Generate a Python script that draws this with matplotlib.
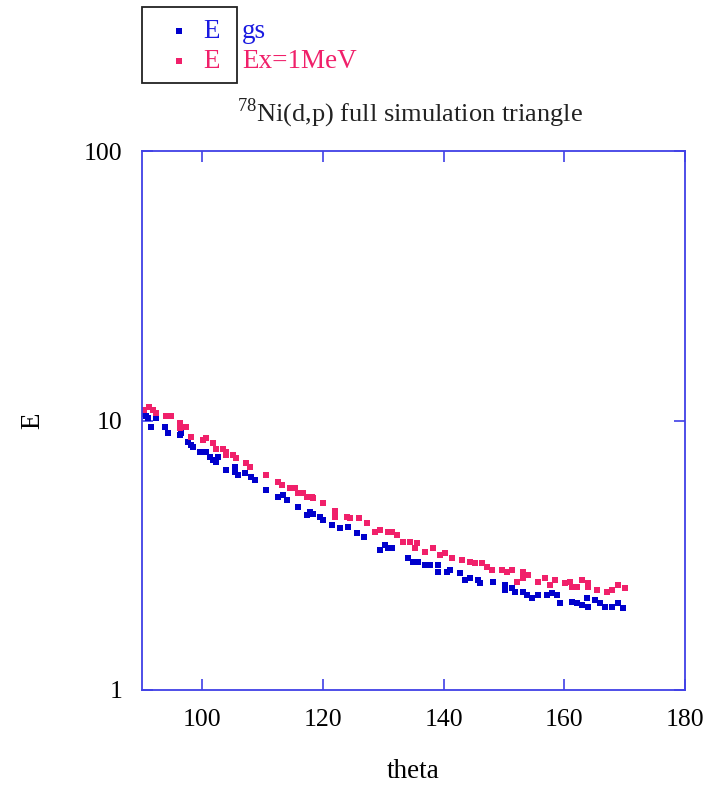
import matplotlib
matplotlib.use("Agg")
import matplotlib.pyplot as plt
from matplotlib.patches import Rectangle
from matplotlib.ticker import FixedLocator, NullLocator

plt.rcParams['font.family'] = ['Liberation Serif', 'DejaVu Serif']
plt.rcParams['mathtext.fontset'] = 'custom'
plt.rcParams['mathtext.rm'] = 'Liberation Serif'

# ground state series
theta_gs = [90.2, 90.7, 91.0, 92.3, 91.5, 93.8, 94.3, 96.3, 96.5, 97.6, 98.1, 98.5, 99.6, 100.6,
            101.3, 101.8, 102.3, 102.6, 103.9, 105.4, 105.4, 105.9, 107.1, 108.1, 108.7, 110.6,
            112.5, 113.4, 114.0, 115.9, 117.3, 117.8, 118.3, 119.5, 120.0, 121.5, 122.8, 124.1,
            125.6, 126.8, 129.4, 130.3, 130.8, 131.4, 134.1, 134.9, 135.7, 136.9, 137.7, 139.1,
            139.1, 140.6, 141.1, 142.7, 143.5, 144.4, 145.7, 146.0, 148.2, 150.2, 150.2, 151.3,
            151.8, 153.2, 153.8, 154.6, 155.6, 157.1, 158.0, 158.8, 159.3, 161.3, 162.1, 162.9,
            163.8, 163.9, 165.1, 165.9, 166.7, 167.9, 168.9, 169.7]
E_gs = [10.6, 10.4, 10.2, 10.2, 9.42, 9.42, 8.95, 8.80, 8.95, 8.29, 8.08, 7.94, 7.61, 7.61,
        7.29, 7.11, 6.99, 7.29, 6.53, 6.70, 6.42, 6.26, 6.36, 6.15, 5.99, 5.51,
        5.19, 5.28, 5.05, 4.76, 4.45, 4.56, 4.49, 4.37, 4.26, 4.08, 3.98, 4.01,
        3.81, 3.69, 3.30, 3.44, 3.36, 3.36, 3.08, 2.98, 2.98, 2.90, 2.90, 2.90,
        2.73, 2.73, 2.78, 2.71, 2.56, 2.60, 2.56, 2.49, 2.51, 2.45, 2.35, 2.39,
        2.31, 2.31, 2.25, 2.19, 2.25, 2.25, 2.29, 2.25, 2.10, 2.12, 2.10, 2.06,
        2.19, 2.03, 2.15, 2.10, 2.03, 2.03, 2.10, 2.01]

# Ex = 1 MeV series
theta_ex = [90.3, 91.2, 91.8, 92.3, 94.0, 94.8, 96.3, 96.3, 97.3, 98.1, 100.1, 100.6, 101.8, 102.3,
            103.4, 103.9, 103.9, 105.1, 105.6, 107.2, 107.9, 110.6, 112.5, 113.2, 114.5, 115.4,
            115.9, 116.7, 117.3, 118.2, 118.3, 120.0, 122.0, 122.0, 124.0, 124.5, 126.0, 127.3,
            128.6, 129.4, 130.8, 131.4, 132.3, 133.3, 134.4, 135.3, 135.6, 136.9, 138.2, 139.4,
            140.2, 141.4, 143.0, 144.4, 145.2, 146.4, 147.2, 148.0, 149.7, 150.5, 151.3, 152.2,
            153.2, 153.2, 154.0, 155.6, 156.8, 157.6, 158.5, 160.1, 160.9, 161.3, 162.1, 162.9,
            163.9, 163.9, 165.4, 167.1, 167.9, 168.9, 170.1]
E_ex = [10.9, 11.2, 10.9, 10.7, 10.35, 10.35, 9.75, 9.34, 9.42, 8.65, 8.43, 8.58, 8.22, 7.87,
        7.87, 7.61, 7.42, 7.42, 7.23, 6.93, 6.70, 6.26, 5.89, 5.74, 5.60, 5.60,
        5.37, 5.37, 5.19, 5.19, 5.14, 4.93, 4.60, 4.37, 4.37, 4.34, 4.34, 4.15,
        3.85, 3.91, 3.85, 3.85, 3.75, 3.53, 3.53, 3.36, 3.50, 3.24, 3.36, 3.16,
        3.22, 3.08, 3.03, 2.98, 2.95, 2.95, 2.85, 2.78, 2.78, 2.73, 2.78, 2.51,
        2.73, 2.60, 2.67, 2.51, 2.60, 2.45, 2.56, 2.49, 2.51, 2.41, 2.41, 2.56,
        2.49, 2.41, 2.35, 2.31, 2.35, 2.45, 2.39]

x_ticks = [100, 120, 140, 160, 180]
y_ticks = [1, 10, 100]
y_tick_labels = ['1', '10', '100']

blue = '#0000cc'
pink = '#f0206a'
spine = '#4040e6'
ms = 3.8

fig = plt.figure(figsize=(7.10, 7.88), dpi=100)
ax = fig.add_axes([142/710, 1-690/788, (685-142)/710, (690-151)/788])

ax.plot(theta_gs, E_gs, 's', color=blue, ms=ms, mew=0)
ax.plot(theta_ex, E_ex, 's', color=pink, ms=ms, mew=0)

ax.set_yscale('log')
ax.set_xlim(90, 180)
ax.set_ylim(1, 100)
ax.xaxis.set_major_locator(FixedLocator(x_ticks))
ax.yaxis.set_major_locator(FixedLocator(y_ticks))
ax.yaxis.set_minor_locator(NullLocator())
ax.set_yticklabels(y_tick_labels)
ax.tick_params(which='both', direction='in', top=True, right=True, length=8,
               width=1.2, color=spine, labelsize=18.5, pad=14)
for s in ax.spines.values():
    s.set_color(spine)
    s.set_linewidth(1.3)

ax.set_xlabel('theta', fontsize=19.5, labelpad=20)
ax.set_ylabel('E', fontsize=19.5, labelpad=28)

fig.text(410/710, 1-113/788, r'$^{78}$Ni(d,p) full simulation triangle',
         ha='center', va='center', fontsize=19, color='#222222')

# legend box
fig.patches.append(Rectangle((142/710, 1-83/788), (237-142)/710, (83-7)/788,
                             transform=fig.transFigure, fill=False,
                             edgecolor='#222222', linewidth=1.3))
fig.lines.append(plt.Line2D([179/710], [1-31/788], marker='s', ms=ms, mew=0,
                            color=blue, transform=fig.transFigure))
fig.lines.append(plt.Line2D([179/710], [1-61/788], marker='s', ms=ms, mew=0,
                            color=pink, transform=fig.transFigure))
fig.text(220/710, 1-31/788, 'E', ha='right', va='center', fontsize=19.5, color='#1a1ae0')
fig.text(242/710, 1-31/788, 'gs', ha='left', va='center', fontsize=19.5, color='#1a1ae0')
fig.text(220/710, 1-61/788, 'E', ha='right', va='center', fontsize=19.5, color=pink)
fig.text(242/710, 1-61/788, 'Ex=1MeV', ha='left', va='center', fontsize=19.5, color=pink)

fig.savefig('out.png', dpi=100)
